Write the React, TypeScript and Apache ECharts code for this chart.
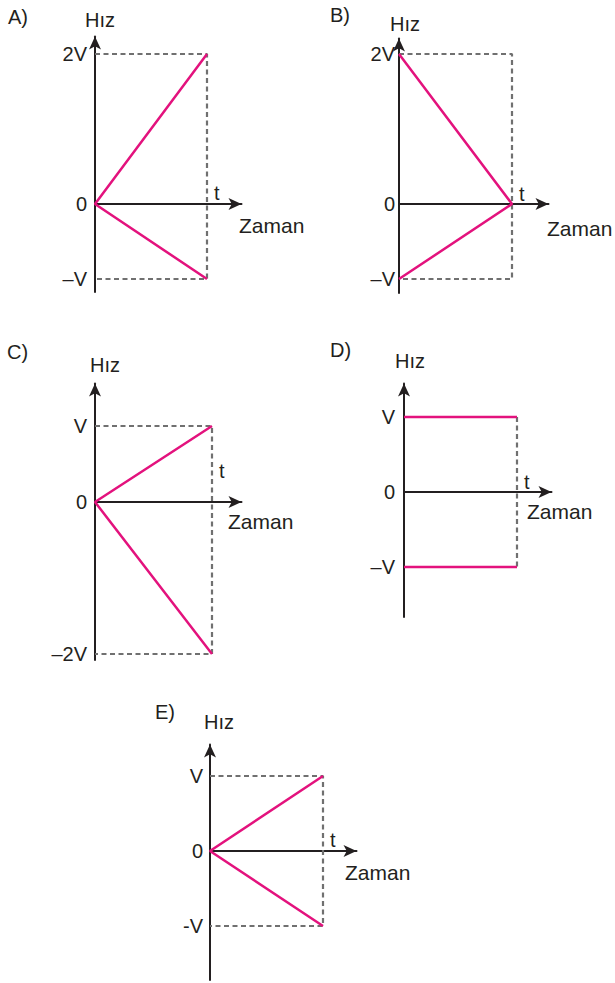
import React, { useEffect, useRef } from 'react';
import * as echarts from 'echarts';

// ---------- text ----------
const panelLetters = ['A)', 'B)', 'C)', 'D)', 'E)'];
const speedAxisName = 'Hız';
const timeAxisName = 'Zaman';
const timeTickLabel = 't';
const timeTickValue = 1;

// ---------- tick values (units of V) and labels ----------
const tickValuesA = [2, 0, -1];
const tickLabelsA = ['2V', '0', '–V'];
const tickValuesB = [2, 0, -1];
const tickLabelsB = ['2V', '0', '–V'];
const tickValuesC = [1, 0, -2];
const tickLabelsC = ['V', '0', '–2V'];
const tickValuesD = [1, 0, -1];
const tickLabelsD = ['V', '0', '–V'];
const tickValuesE = [1, 0, -1];
const tickLabelsE = ['V', '0', '-V'];

// ---------- velocity graphs: [time (units of t), speed (units of V)] ----------
const speedA = [[1, 2], [0, 0], [1, -1]];
const guideA = [[0, 2], [1, 2], [1, -1], [0, -1]];
const speedB = [[0, 2], [1, 0], [0, -1]];
const guideB = [[0, 2], [1, 2], [1, -1], [0, -1]];
const speedC = [[1, 1], [0, 0], [1, -2]];
const guideC = [[0, 1], [1, 1], [1, -2], [0, -2]];
const speedD1 = [[0, 1], [1, 1]];
const speedD2 = [[0, -1], [1, -1]];
const guideD = [[1, 1], [1, -1]];
const speedE = [[1, 1], [0, 0], [1, -1]];
const guideE = [[0, 1], [1, 1], [1, -1], [0, -1]];

const panelTicks = [tickValuesA, tickValuesB, tickValuesC, tickValuesD, tickValuesE];
const panelTickLabels = [tickLabelsA, tickLabelsB, tickLabelsC, tickLabelsD, tickLabelsE];
const panelSpeeds = [[speedA], [speedB], [speedC], [speedD1, speedD2], [speedE]];
const panelGuides = [guideA, guideB, guideC, guideD, guideE];

// ---------- layout (pixels) ----------
const layout = [
  { axisX: 95, originY: 204, unit: 75, tip: 30, bottom: 292, tX: 207, end: 248,
    letter: { left: 8, top: 7 }, hiz: { dx: 5, gap: 6.5 }, zaman: { left: 239, dy: 21 }, tLift: 1, tickMargin: 8 },
  { axisX: 399, originY: 204, unit: 75, tip: 32, bottom: 293, tX: 512, end: 555,
    letter: { left: 330, top: 5 }, hiz: { dx: 6, gap: 4.5 }, zaman: { left: 547, dy: 24 }, tLift: 0, tickMargin: 4 },
  { axisX: 95, originY: 502, unit: 76, tip: 377, bottom: 660, tX: 212, end: 248,
    letter: { left: 7, top: 342 }, hiz: { dx: 10, gap: 8.5 }, zaman: { left: 228, dy: 19 }, tLift: 21, tickMargin: 8 },
  { axisX: 404, originY: 492, unit: 75, tip: 377, bottom: 617, tX: 517, end: 558,
    letter: { left: 330, top: 340 }, hiz: { dx: 6, gap: 12.5 }, zaman: { left: 527, dy: 19 }, tLift: 0, tickMargin: 9 },
  { axisX: 210, originY: 851, unit: 75, tip: 738, bottom: 980, tX: 323, end: 363,
    letter: { left: 155, top: 702 }, hiz: { dx: 9, gap: 12.5 }, zaman: { left: 345, dy: 21 }, tLift: 1, tickMargin: 7 },
];

const FONT = '"Liberation Sans", Arial, Helvetica, sans-serif';
const INK = '#231F20';
const PINK = '#E3127D';
const GUIDE = '#707070';
const ARROW_W = 9;
const ARROW_LEN = 13;
const HALF = ARROW_LEN / 2;

function buildOption() {
  const grid: any[] = [];
  const xAxis: any[] = [];
  const yAxis: any[] = [];
  const series: any[] = [];
  const title: any[] = [];

  layout.forEach((L, i) => {
    const top = L.tip + HALF;
    const right = L.end - HALF;
    grid.push({ left: L.axisX, top, width: right - L.axisX, height: L.bottom - top, containLabel: false });
    const xMax = (right - L.axisX) / (L.tX - L.axisX);
    const yMax = (L.originY - top) / L.unit;
    const yMin = -(L.bottom - L.originY) / L.unit;
    const ticks = panelTicks[i];
    const labels = panelTickLabels[i];

    xAxis.push({
      gridIndex: i, type: 'value', min: 0, max: xMax,
      axisLine: { show: true, onZero: true, symbol: ['none', 'arrow'], symbolSize: [ARROW_W, ARROW_LEN],
        lineStyle: { color: INK, width: 2 } },
      axisTick: { show: false },
      splitLine: { show: false },
      axisLabel: { show: false },
      name: timeAxisName, nameLocation: 'end', nameGap: L.zaman.left - right,
      nameTextStyle: { fontSize: 21, color: INK, fontFamily: FONT, align: 'left', verticalAlign: 'top',
        lineHeight: 2 * L.zaman.dy },
    });

    yAxis.push({
      gridIndex: i, type: 'value', min: yMin, max: yMax,
      axisLine: { show: true, onZero: true, symbol: ['none', 'arrow'], symbolSize: [ARROW_W, ARROW_LEN],
        lineStyle: { color: INK, width: 2 } },
      axisTick: { show: false },
      splitLine: { show: false },
      axisLabel: {
        customValues: ticks,
        formatter: (v: number) => {
          const k = ticks.findIndex((t) => Math.abs(t - v) < 1e-6);
          return k >= 0 ? labels[k] : '';
        },
        margin: L.tickMargin, fontSize: 20, color: INK, fontFamily: FONT,
      },
      name: speedAxisName, nameLocation: 'end', nameGap: L.hiz.gap,
      nameTextStyle: { fontSize: 20, color: INK, fontFamily: FONT, padding: [0, 0, 0, 2 * L.hiz.dx] },
    });

    series.push({
      type: 'line', xAxisIndex: i, yAxisIndex: i, data: panelGuides[i],
      symbol: 'none', silent: true, clip: false, z: 1,
      lineStyle: { color: GUIDE, width: 2.2, type: [5, 3.5] },
    });
    panelSpeeds[i].forEach((d) => {
      series.push({
        type: 'line', xAxisIndex: i, yAxisIndex: i, data: d,
        symbol: 'none', silent: true, clip: false, z: 3,
        lineStyle: { color: PINK, width: 2.5 },
      });
    });
    // the "t" mark on the time axis
    series.push({
      type: 'scatter', xAxisIndex: i, yAxisIndex: i, data: [[timeTickValue, 0]],
      symbolSize: 0, silent: true, z: 4,
      itemStyle: { opacity: 1 },
      label: { show: true, formatter: () => timeTickLabel, position: [7, -L.tLift], align: 'left',
        verticalAlign: 'bottom', fontSize: 20, color: INK, opacity: 1, fontFamily: FONT },
    });

    title.push({
      text: panelLetters[i], left: L.letter.left, top: L.letter.top, padding: 0,
      textStyle: { fontSize: 20, fontWeight: 'normal', color: INK, fontFamily: FONT },
    });
  });

  return { animation: false, backgroundColor: '#ffffff', title, grid, xAxis, yAxis, series };
}

export default function App() {
  const ref = useRef<HTMLDivElement>(null);
  useEffect(() => {
    if (!ref.current) return;
    const chart = echarts.init(ref.current, undefined, { renderer: 'svg' });
    chart.setOption(buildOption() as any);
    return () => chart.dispose();
  }, []);
  return (
    <div
      ref={ref}
      style={{ position: 'absolute', left: 0, top: 0, width: 615, height: 983, background: '#fff' }}
    />
  );
}
